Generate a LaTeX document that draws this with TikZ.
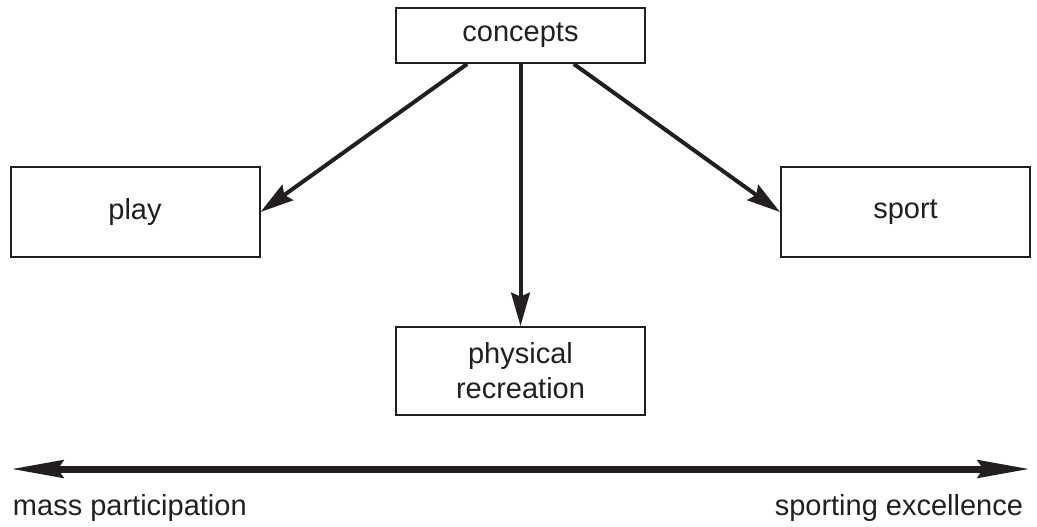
\documentclass[tikz,border=0pt]{standalone}
\usepackage{fontspec}
\setmainfont{Liberation Sans}
\usetikzlibrary{arrows.meta}
\definecolor{ink}{RGB}{35,31,32}

\begin{document}
\begin{tikzpicture}[x=0.75pt, y=-0.75pt, thick, ink,
    every node/.style={text=ink, font=\fontsize{21.75}{26.25}\selectfont},
    box/.style={draw, line width=1.5pt, inner sep=0pt, minimum width=186.75pt, align=center},
    link/.style={line width=3pt, -{Stealth[length=25pt, width=14pt, inset=3pt]}}]
    \useasboundingbox (0,0) rectangle (1037,526);

    % Define the concept boxes
    \node (concepts) [box, minimum height=41.25pt] at (520.5,35.5) {concepts};  % Top
    \node (play) [box, minimum height=67.5pt] at (135,212) {play};  % Left
    \node (sport) [box, minimum height=67.5pt] at (905.5,212) {sport};  % Right
    \node (recreation) [box, minimum height=66pt] at (520.5,371) {physical\\recreation};  % Middle

    % Define arrows from concepts
    \draw[link] ([xshift=-40pt]concepts.south) -- (play.east);
    \draw[link] (concepts.south) -- (recreation.north);
    \draw[link] ([xshift=40pt]concepts.south) -- (sport.west);

    % Scale from mass participation to sporting excellence
    \coordinate (low) at (11,469);
    \coordinate (high) at (1030,469);
    \draw[line width=5.25pt, {Stealth[length=39pt, width=13pt, inset=4pt]}-{Stealth[length=39pt, width=13pt, inset=4pt]}] (low) -- (high);
    \node (mass) [anchor=base west] at (8,515) {mass participation};
    \node (excellence) [anchor=base east] at (1028,515) {sporting excellence};
\end{tikzpicture}
\end{document}
